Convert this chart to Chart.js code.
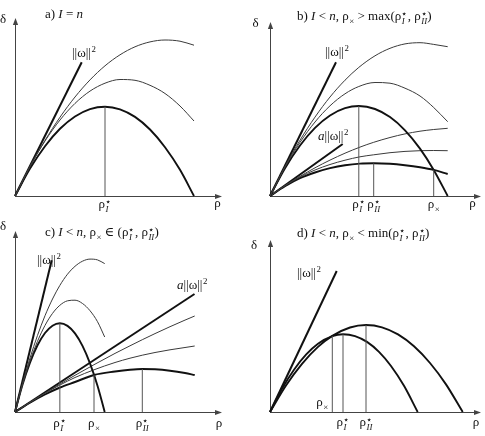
<!DOCTYPE html>
<html><head><meta charset="utf-8">
<script src="https://cdn.jsdelivr.net/npm/chart.js@4/dist/chart.umd.min.js"></script>
<style>
html,body{margin:0;padding:0;background:#fff;overflow:hidden;}
#wrap{position:relative;width:485px;height:436px;}
canvas{position:absolute;}
</style></head><body>
<div id="wrap">
<canvas id="ca" width="242" height="218" style="left:0;top:0"></canvas>
<canvas id="cb" width="243" height="218" style="left:242px;top:0"></canvas>
<canvas id="cc" width="242" height="218" style="left:0;top:218px"></canvas>
<canvas id="cd" width="243" height="218" style="left:242px;top:218px"></canvas>
</div>
<script>
// ---------- DATA (ρ, δ in arbitrary units) ----------
// Panel a
const rhoA    = [0,15,30,45,60,75,90,105,120,135,150,165,179];
const deltaA1 = [0,27.4,49.8,67.2,79.5,86.9,89.3,86.7,79.1,66.5,48.8,26.2,0];
const deltaA2 = [0,29.7,55,76,92.6,104.9,112.8,116.5,115.7,110.7,102.5,90,75];
const deltaA3 = [0,29.3,55.6,78.8,99,116.1,130.2,141.2,149.2,154.1,156,154.8,150.8];
const normRhoA = [0,66.7], normA = [0,133.7];
const markA = [90], markHA = [89.3], markLabA = ['ρ^*_{$I$}'];

// Panel b
const rhoB    = [0,15,30,45,60,75,88.8,105,120,135,150,163.7,177.7];
const deltaB1 = [0,27.8,50.5,68.1,80.5,87.8,90,87,78.9,65.7,47.4,26.1,0];
const deltaB2 = [0,28.9,53.6,74,90.2,102.2,109.5,113.5,112.8,107.8,100,88.5,74.3];
const deltaB3 = [0,29.4,55.8,78.9,99,115.8,128.6,140.2,147.7,152.1,153.3,151.6,149.3];
const rhoB2   = [0,15,30,45,60,75,90,103.7,120,135,150,163.7,177.7];
const deltaB4 = [0,9.8,17.8,23.5,27.8,30.8,32.4,32.7,32.2,30.8,28.8,26.2,22];
const deltaB5 = [0,10.2,19,26,31.5,35.8,39.2,41.2,43.3,44.6,45.3,45.5,45.3];
const deltaB6 = [0,10.5,19.6,28.2,35.9,42.8,48.9,53.7,58.5,62.1,64.8,66.5,67.7];
const normRhoB = [0,66], normB = [0,133.7];
const aNormRhoB = [0,72.7], aNormB = [0,52];
const markB = [88.8,103.7,163.7], markHB = [90,32.7,26.2], markLabB = ['ρ^*_{$I$}','ρ^*_{$II$}','ρ_×'];

// Panel c
const rhoC    = [0,7.5,15,22.5,30,37.5,44.85,52.5,60,67.5,75,82.5,89.7];
const deltaC1 = [0,27.2,49.4,66.7,79,86.3,88.7,86.1,78.6,66.1,48.6,26.2,0];
const deltaC2 = [0,27.4,51,70.7,86.6,98.6,106.7,111.2,111.8,108.5,101.3,90.3,75];
const deltaC3 = [0,28.5,54,76.6,96.3,113,126.6,137.8,145.7,150.8,152.9,152.1,148.4];
const rhoC2   = [0,15,30,45,60,79,100,115,127.3,140,155,170,179.7];
const deltaC4 = [0,9.3,17.5,24.5,30,37,40.5,42.3,43,42.7,41.3,39,37];
const deltaC5 = [0,9.6,18.8,27,34.5,42.2,49.5,53.8,56.8,59.5,62.2,64.5,66];
const deltaC6 = [0,9.6,18.9,28,36.7,47.3,58.6,66.2,72.3,78.4,85.3,91.9,96];
const normRhoC = [0,36.7], normC = [0,151.7];
const aNormRhoC = [0,179.5], aNormC = [0,118];
const markC = [44.85,79,127.3], markHC = [88.7,37.2,43], markLabC = ['ρ^*_{$I$}','ρ_×','ρ^*_{$II$}'];

// Panel d
const rhoD1   = [0,12,24,36,48,62.3,73,85,97,109,121,134,147.7];
const deltaD1 = [0,23.2,42.3,57.3,68.2,75.8,77.7,75.9,70.1,60.1,46,26.2,0];
const rhoD2   = [0,16,32,48,62.3,80,96,112,128,144,160,176,192.7];
const deltaD2 = [0,26.5,48.2,65.1,76.1,84.5,87,84.7,77.6,65.7,49,27.6,0];
const normRhoD = [0,66.7], normD = [0,141];
const markD = [62.3,73,96], markHD = [76,77.7,87], markLabD = ['ρ_×','ρ^*_{$I$}','ρ^*_{$II$}'];

// ---------- rich text helpers ----------
const FAM = '"Liberation Serif","Times New Roman","DejaVu Serif",serif';
function parseRich(s){
  const segs=[]; let it=false, i=0;
  const readGroup=()=>{let g=''; if(s[i]==='{'){i++; while(i<s.length&&s[i]!=='}') g+=s[i++]; i++;} else g=s[i++]; return g;};
  while(i<s.length){
    const c=s[i];
    if(c==='$'){it=!it;i++;continue;}
    if(c==='^'||c==='_'){
      i++; const k=c==='^'?'sup':'sub'; const g=readGroup(); const last=segs[segs.length-1];
      if(last&&last.script&&!last[k]) last[k]=g; else {const o={script:true}; o[k]=g; segs.push(o);}
      continue;
    }
    const last=segs[segs.length-1];
    if(last&&!last.script&&last.it===it) last.t+=c; else segs.push({t:c,it});
    i++;
  }
  return segs;
}
function fnt(it,sz){return (it?'italic ':'')+sz+'px '+FAM;}
function supTxt(g){return g==='*'?'⋆':g.replace(/\$/g,'');}
function drawRich(ctx,s,x,y,size,align){
  const segs=parseRich(s), ss=size*0.68;
  let w=0;
  const ws=segs.map(sg=>{
    let ww;
    if(sg.script){
      let a=0,b=0;
      if(sg.sup){ctx.font=fnt(sg.sup.includes('$'),sg.sup==='*'?size*0.75:ss); a=ctx.measureText(supTxt(sg.sup)).width;}
      if(sg.sub){ctx.font=fnt(sg.sub.includes('$'),ss); b=ctx.measureText(sg.sub.replace(/\$/g,'')).width;}
      ww=Math.max(a,b)+0.5;
    } else {ctx.font=fnt(sg.it,size); ww=ctx.measureText(sg.t).width;}
    w+=ww; return ww;
  });
  let cx = align==='center'? x-w/2 : align==='right'? x-w : x;
  ctx.textBaseline='alphabetic'; ctx.textAlign='left';
  segs.forEach((sg,k)=>{
    if(sg.script){
      if(sg.sup){
        if(sg.sup==='*'){ctx.font=fnt(false,size*0.75); ctx.fillText('⋆',cx,y-size*0.22);}
        else {ctx.font=fnt(sg.sup.includes('$'),ss); ctx.fillText(supTxt(sg.sup),cx+0.5,y-size*0.42);}
      }
      if(sg.sub){ctx.font=fnt(sg.sub.includes('$'),ss); ctx.fillText(sg.sub.replace(/\$/g,''),cx+0.5,y+size*0.27);}
    } else {ctx.font=fnt(sg.it,size); ctx.fillText(sg.t,cx,y);}
    cx+=ws[k];
  });
}

const figPlugin = {
  id:'fig',
  beforeDatasetsDraw(chart){
    const {ctx, chartArea:a} = chart;
    ctx.save();
    ctx.strokeStyle='#444'; ctx.fillStyle='#444'; ctx.lineWidth=1;
    const x0=Math.round(a.left)+0.5, y0=Math.round(a.bottom)+0.5;
    ctx.beginPath(); ctx.moveTo(x0,y0); ctx.lineTo(x0,a.top+5); ctx.moveTo(x0,y0); ctx.lineTo(a.right-5,y0); ctx.stroke();
    ctx.beginPath(); ctx.moveTo(x0,a.top); ctx.lineTo(x0-2.6,a.top+7); ctx.lineTo(x0+2.6,a.top+7); ctx.closePath(); ctx.fill();
    ctx.beginPath(); ctx.moveTo(a.right,y0); ctx.lineTo(a.right-7,y0-2.6); ctx.lineTo(a.right-7,y0+2.6); ctx.closePath(); ctx.fill();
    ctx.restore();
  },
  afterDatasetsDraw(chart){
    const o=chart.options.plugins.fig, ctx=chart.ctx, xs=chart.scales.x;
    ctx.save(); ctx.fillStyle='#111';
    o.texts.forEach(t=>drawRich(ctx,t.s,t.x,t.y,t.size||13,t.align||'left'));
    o.marks.forEach((m,i)=>{
      const off=(o.markOff&&o.markOff[i])||{dx:0,dy:0,align:'center'};
      drawRich(ctx,o.markLabels[i],xs.getPixelForValue(m)+off.dx,o.markY+off.dy,13,off.align||'center');
    });
    ctx.restore();
  }
};

function pts(xs,ys){return xs.map((x,i)=>({x,y:ys[i]}));}
function curve(xs,ys,thick){
  return {data:pts(xs,ys),showLine:true,borderColor:thick?'#111':'#3a3a3a',borderWidth:thick?1.9:1,
    pointRadius:0,cubicInterpolationMode:'monotone',fill:false,clip:false};
}
function straight(xs,ys){
  return {data:pts(xs,ys),showLine:true,borderColor:'#111',borderWidth:2,pointRadius:0,tension:0,fill:false,clip:false};
}
function marks(ms,hs){
  return ms.map((m,i)=>({data:[{x:m,y:0},{x:m,y:hs[i]}],showLine:true,borderColor:'#555',borderWidth:1,
    pointRadius:0,tension:0,fill:false,clip:false}));
}
function make(id,pad,xmax,ymax,datasets,fig){
  new Chart(document.getElementById(id),{
    type:'scatter',
    data:{datasets},
    options:{responsive:false,animation:false,events:[],
      layout:{padding:pad},
      scales:{x:{type:'linear',min:0,max:xmax,display:false},y:{type:'linear',min:0,max:ymax,display:false}},
      plugins:{legend:{display:false},tooltip:{enabled:false},fig}
    },
    plugins:[figPlugin]
  });
}

const TS = 13;
make('ca',{left:15,top:18,right:20,bottom:22},207,178,
  [...marks(markA,markHA),curve(rhoA,deltaA3,false),curve(rhoA,deltaA2,false),curve(rhoA,deltaA1,true),straight(normRhoA,normA)],
  {texts:[{s:'a) $I$ = $n$',x:45,y:18,size:TS},{s:'δ',x:3,y:23,align:'center'},{s:'ρ',x:217.5,y:207,align:'center'},
          {s:'||ω||^2',x:72,y:57}],
   marks:markA,markLabels:markLabA,markY:208});

make('cb',{left:28,top:22,right:4,bottom:22},211,174,
  [...marks(markB,markHB),curve(rhoB,deltaB3,false),curve(rhoB,deltaB2,false),curve(rhoB,deltaB1,true),
   curve(rhoB2,deltaB6,false),curve(rhoB2,deltaB5,false),curve(rhoB2,deltaB4,true),
   straight(normRhoB,normB),straight(aNormRhoB,aNormB)],
  {texts:[{s:'b) $I$ < $n$, ρ_× > max(ρ^*_{$I$}, ρ^*_{$II$})',x:55,y:20,size:TS},{s:'δ',x:13.5,y:27,align:'center'},
          {s:'ρ',x:230.5,y:207,align:'center'},{s:'||ω||^2',x:83,y:56},{s:'$a$||ω||^2',x:76,y:140}],
   marks:markB,markLabels:markLabB,markY:208});

make('cc',{left:15,top:13,right:20,bottom:24},207,181,
  [...marks(markC,markHC),curve(rhoC,deltaC3,false),curve(rhoC,deltaC2,false),curve(rhoC,deltaC1,true),
   curve(rhoC2,deltaC6,false),curve(rhoC2,deltaC5,false),curve(rhoC2,deltaC4,true),
   straight(normRhoC,normC),straight(aNormRhoC,aNormC)],
  {texts:[{s:'c) $I$ < $n$, ρ_× ∈ (ρ^*_{$I$}, ρ^*_{$II$})',x:45,y:18,size:TS},{s:'δ',x:3,y:12,align:'center'},
          {s:'ρ',x:219,y:209,align:'center'},{s:'||ω||^2',x:37,y:46},{s:'$a$||ω||^2',x:177,y:71}],
   marks:markC,markLabels:markLabC,markY:209});

make('cd',{left:28,top:22,right:4,bottom:24},211,172,
  [...marks(markD,markHD),curve(rhoD2,deltaD2,true),curve(rhoD1,deltaD1,true),straight(normRhoD,normD)],
  {texts:[{s:'d) $I$ < $n$, ρ_× < min(ρ^*_{$I$}, ρ^*_{$II$})',x:55,y:19,size:TS},{s:'δ',x:12,y:31,align:'center'},
          {s:'ρ',x:234,y:208,align:'center'},{s:'||ω||^2',x:55,y:59}],
   marks:markD,markLabels:markLabD,markY:208,
   markOff:[{dx:-4,dy:-20,align:'right'},{dx:0,dy:0,align:'center'},{dx:0,dy:0,align:'center'}]});
</script>
</body></html>
